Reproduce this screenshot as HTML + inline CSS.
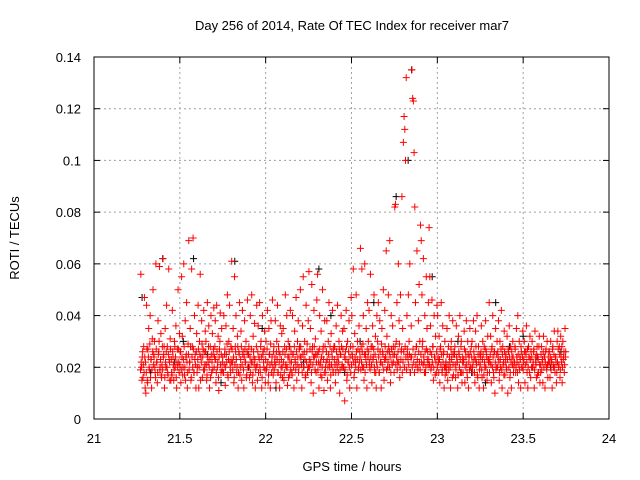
<!DOCTYPE html>
<html><head><meta charset="utf-8"><style>
body{margin:0;background:#fff}
svg{display:block;font-family:"Liberation Sans",sans-serif}
</style></head><body>
<svg id="chart" width="640" height="480" xmlns="http://www.w3.org/2000/svg">
<rect width="640" height="480" fill="#fff"/>
<g id="grid"></g>
<g id="points"></g>
<g id="axes"></g>
<text x="352" y="30" font-size="13" text-anchor="middle">Day 256 of 2014, Rate Of TEC Index for receiver mar7</text>
<text x="352" y="471" font-size="13" text-anchor="middle">GPS time / hours</text>
<text x="19" y="238" font-size="13" text-anchor="middle" transform="rotate(-90 19 238)">ROTI / TECUs</text>
</svg>
<script>
const xTicks=[21,21.5,22,22.5,23,23.5,24];
const xTickLabels=["21","21.5","22","22.5","23","23.5","24"];
const yTicks=[0,0.02,0.04,0.06,0.08,0.1,0.12,0.14];
const yTickLabels=["0","0.02","0.04","0.06","0.08","0.1","0.12","0.14"];
const binStarts=[21.25,21.30,21.35,21.40,21.45,21.50,21.55,21.60,21.65,21.70,21.75,21.80,21.85,21.90,21.95,22.00,22.05,22.10,22.15,22.20,22.25,22.30,22.35,22.40,22.45,22.50,22.55,22.60,22.65,22.70,22.75,22.80,22.85,22.90,22.95,23.00,23.05,23.10,23.15,23.20,23.25,23.30,23.35,23.40,23.45,23.50,23.55,23.60,23.65,23.70];
const redMilli=[
[14,18,22,26,30,56,20,24,16,28,47,12],
[10,44,15,27,35,19,40,23,12,31,50,25],
[30,18,60,22,14,38,26,59,20,33,16,28],
[62,25,12,35,20,44,28,17,58,22,31,15],
[18,42,24,15,30,20,36,12,27,50,22,33],
[26,14,55,32,20,60,17,38,24,45,12,29],
[69,22,35,15,58,28,70,18,40,25,12,33],
[20,44,12,30,56,24,38,16,27,42,19,34],
[30,15,45,22,36,12,28,40,18,33,25,43],
[24,38,14,44,20,32,11,27,41,18,35,22],
[18,40,25,13,36,22,48,16,30,44,20,28],
[61,22,35,14,55,28,40,18,32,12,26,45],
[20,34,15,42,26,12,38,22,30,17,46,25],
[28,16,40,22,48,14,32,24,37,12,20,44],
[15,36,24,45,18,30,12,40,26,20,34,14],
[30,20,42,14,35,25,12,38,22,46,17,28],
[22,38,14,30,44,18,26,12,36,20,33,16],
[35,15,28,48,20,40,13,30,24,17,42,26],
[18,40,25,12,34,22,47,15,30,38,20,28],
[50,24,12,36,55,20,30,16,44,26,18,38],
[57,20,35,14,52,28,10,42,24,31,18,46],
[56,26,12,40,22,34,16,50,28,11,38,20],
[22,38,15,30,45,20,12,33,26,42,18,28],
[28,14,36,22,44,18,30,10,25,40,20,34],
[20,35,7,26,42,15,30,22,38,12,28,47],
[40,24,58,16,33,22,48,12,30,20,36,26],
[66,28,58,20,40,15,60,25,35,12,45,30],
[42,20,56,28,14,36,24,48,18,32,12,40],
[30,45,18,38,22,12,35,26,50,15,42,24],
[65,32,20,48,26,69,14,40,22,36,28,18],
[82,83,30,45,22,60,38,16,48,26,86,35],
[107,117,112,100,132,40,25,48,30,60,18,36],
[135,124,123,103,82,45,28,65,20,38,52,30],
[75,69,48,30,62,22,40,18,55,35,26,45],
[74,55,36,20,46,28,15,40,24,32,18,44],
[40,22,32,14,28,45,18,36,25,12,30,20],
[20,35,15,28,40,22,12,30,25,38,17,26],
[28,16,36,22,12,32,25,40,18,30,14,24],
[22,34,14,26,38,18,30,12,24,35,20,28],
[30,18,38,24,14,34,22,40,16,28,12,25],
[24,36,16,30,12,28,20,38,26,15,32,22],
[45,22,32,14,28,40,18,26,10,35,20,30],
[26,38,15,30,20,42,12,28,22,34,17,24],
[20,32,10,26,36,16,28,12,24,30,18,22],
[28,18,35,22,40,14,30,24,12,26,20,34],
[22,30,14,26,36,18,12,28,24,32,16,20],
[30,20,26,12,34,22,16,28,24,18,32,14],
[18,28,22,14,32,24,12,26,20,30,16,22],
[26,16,30,22,12,28,20,34,18,24,14,30],
[34,20,28,16,32,22,14,30,24,18,35,26]];
const redMilliDense=[
[20,25,17,23,28,19,22,15,26,21,18,24],
[22,18,27,14,24,20,29,16,23,19,26,21],
[24,20,16,27,22,18,25,30,19,23,17,21],
[19,24,28,16,22,26,20,18,25,23,15,27],
[23,17,26,21,19,28,24,16,22,20,27,18],
[21,26,19,24,17,23,28,20,15,25,22,18],
[25,19,22,28,16,24,20,27,18,23,21,26],
[18,23,27,20,25,15,22,29,24,19,26,21],
[26,21,17,24,28,20,23,16,25,22,19,27],
[20,28,23,18,26,22,16,24,30,21,25,19],
[24,18,21,27,20,25,29,17,23,26,22,18],
[22,27,19,24,16,21,26,23,20,28,18,25],
[17,23,28,21,25,19,24,27,22,16,26,20],
[25,20,24,18,27,22,17,26,21,23,19,28],
[21,26,18,23,20,28,24,16,25,22,27,19],
[23,19,27,22,17,25,21,29,18,24,20,26],
[19,24,21,26,23,18,28,22,25,17,23,20],
[26,22,18,25,21,27,20,24,16,28,22,19],
[22,17,25,20,28,23,19,26,21,24,18,27],
[24,28,21,18,25,20,26,23,17,22,29,20],
[20,23,27,22,18,26,21,24,28,19,25,22],
[25,19,22,27,21,17,24,20,26,23,18,28],
[18,26,23,20,25,22,28,17,21,24,19,27],
[23,21,18,26,20,24,22,27,19,25,28,21],
[27,20,24,19,23,28,17,22,26,20,24,18],
[21,25,28,22,18,24,20,26,23,27,19,22],
[24,19,22,26,29,20,25,18,23,21,27,24],
[26,22,19,24,21,28,23,27,20,25,18,22],
[20,27,24,18,26,22,29,21,25,19,23,28],
[23,19,26,22,28,20,24,18,27,21,25,22],
[25,28,21,24,19,26,22,29,20,23,27,18],
[22,26,20,28,24,19,27,23,21,25,18,24],
[24,20,27,22,18,25,21,28,23,19,26,22],
[19,25,22,28,21,24,18,26,20,27,23,21],
[23,21,26,19,25,22,28,20,24,17,22,26],
[20,24,18,23,27,21,25,19,22,26,20,17],
[22,18,25,21,19,24,20,27,23,16,21,25],
[25,21,19,24,22,17,26,20,23,28,18,22],
[18,23,27,20,24,21,16,25,22,19,26,20],
[24,20,22,26,18,23,28,21,17,25,22,19],
[21,26,19,23,25,17,22,27,20,24,18,23],
[23,18,25,21,27,20,24,16,26,22,19,25],
[20,24,22,18,23,27,19,25,21,17,26,22],
[25,19,23,27,20,24,18,22,26,21,24,20],
[22,27,20,24,18,25,21,19,23,28,20,24],
[19,23,26,21,25,22,27,20,24,18,23,26],
[24,20,22,27,19,24,21,25,17,23,28,21],
[21,25,19,23,26,20,24,22,27,19,21,24],
[26,22,24,19,23,27,21,25,20,24,22,18],
[22,27,21,25,19,24,28,20,23,26,21,24]];
const blackTimes=[21.28,21.33,21.40,21.47,21.52,21.58,21.66,21.74,21.82,21.90,21.98,22.06,22.14,22.22,22.31,22.38,22.46,22.55,22.63,22.72,22.76,22.83,22.85,22.97,23.05,23.12,23.20,23.28,23.34,23.42,23.50,23.58,23.66,23.72];
const blackMilli=[47,18,62,22,30,62,25,14,61,20,35,12,28,22,58,40,18,30,45,26,86,100,135,55,22,30,18,14,45,28,32,24,20,26];
const X0=94,X1=609,Y0=419,Y1=57;
const sx=v=>X0+(v-21)/3*(X1-X0);
const sy=v=>Y0-v/0.14*(Y0-Y1);
const NS="http://www.w3.org/2000/svg";
function mk(tag,attrs,parent){const e=document.createElementNS(NS,tag);for(const k in attrs)e.setAttribute(k,attrs[k]);parent.appendChild(e);return e;}
const grid=document.getElementById('grid'),axes=document.getElementById('axes'),pts=document.getElementById('points');
xTicks.forEach((t,i)=>{const x=sx(t);
 if(i>0&&i<xTicks.length-1){const l=mk('line',{x1:x,y1:Y0,x2:x,y2:Y1,stroke:'#a0a0a0','stroke-dasharray':'2,3'},grid);
 
 }
 mk('line',{x1:x,y1:Y0,x2:x,y2:Y0-6,stroke:'#000'},axes);mk('line',{x1:x,y1:Y1,x2:x,y2:Y1+6,stroke:'#000'},axes);
 const tx=mk('text',{x:x,y:Y0+24,'font-size':13,'text-anchor':'middle'},axes);tx.textContent=xTickLabels[i];
 
 });
yTicks.forEach((t,i)=>{const y=sy(t);
 if(i>0&&i<yTicks.length-1){const l=mk('line',{x1:X0,y1:y,x2:X1,y2:y,stroke:'#a0a0a0','stroke-dasharray':'2,3'},grid);
 
 }
 mk('line',{x1:X0,y1:y,x2:X0+6,y2:y,stroke:'#000'},axes);mk('line',{x1:X1,y1:y,x2:X1-6,y2:y,stroke:'#000'},axes);
 const tx=mk('text',{x:X0-13,y:y+5,'font-size':13,'text-anchor':'end'},axes);tx.textContent=yTickLabels[i];
 
 });
const frame=mk('rect',{x:X0,y:Y1,width:X1-X0,height:Y0-Y1,fill:'none',stroke:'#000'},axes);


function plus(x,y,c){return mk('path',{d:`M${x-3.5},${y}h7M${x},${y-3.5}v7`,stroke:c,'stroke-width':1,fill:'none'},pts);}
blackTimes.forEach((t,i)=>{const p=plus(sx(t),sy(blackMilli[i]/1000),'#000');
 
 });
function drawRed(rows,off){rows.forEach((row,b)=>{row.forEach((v,j)=>{
 const t=binStarts[b]+(j+off)*0.05/row.length;
 if(t<21.27||t>23.76)return;
 const p=plus(sx(t),sy(v/1000),'#ff0000');
 
 });});}
drawRed(redMilli,0.5);
drawRed(redMilliDense,0.0);
</script>
</body></html>
